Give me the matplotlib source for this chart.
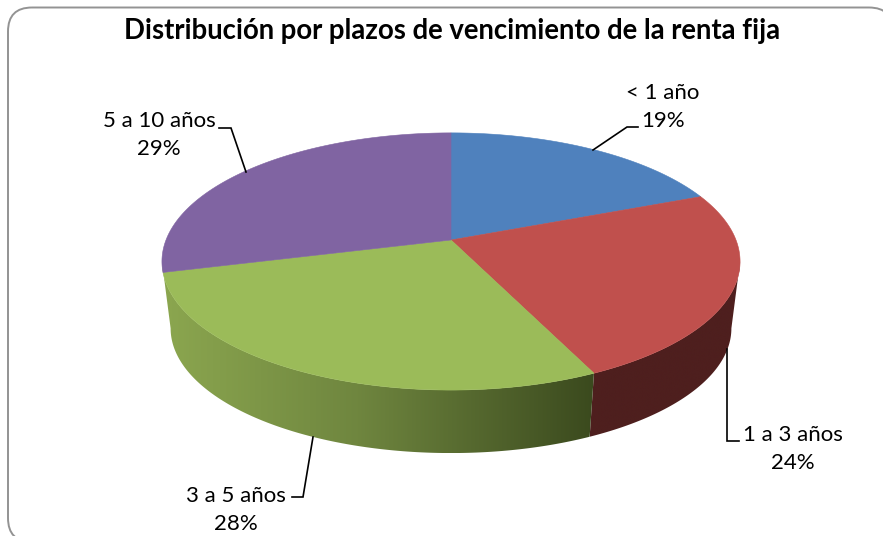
import numpy as np
import matplotlib
matplotlib.use("Agg")
import matplotlib.pyplot as plt
from matplotlib.patches import Polygon, PathPatch
from matplotlib.path import Path
from matplotlib.colors import to_rgb

categories = ["< 1 año", "1 a 3 años", "3 a 5 años", "5 a 10 años"]
values = [19, 24, 28, 29]
top_colors = ["#4f81bd", "#c0504d", "#9bbb59", "#8064a2"]
title = "Distribución por plazos de vencimiento de la renta fija"

plt.rcParams["font.family"] = ["Lato", "DejaVu Sans"]
fig = plt.figure(figsize=(8.83, 5.36), dpi=100, facecolor="white")
ax = fig.add_axes([0, 0, 1, 1])
ax.set_xlim(0, 883)
ax.set_ylim(536, 0)
ax.axis("off")

# rounded chart frame (extends beyond the canvas at right/bottom)
x0, y0, x1, y1, r = 8, 7.5, 893, 542, 24
verts = [(x0 + r, y0), (x1 - r, y0), (x1, y0), (x1, y0 + r), (x1, y1 - r), (x1, y1), (x1 - r, y1),
         (x0 + r, y1), (x0, y1), (x0, y1 - r), (x0, y0 + r), (x0, y0), (x0 + r, y0)]
codes = [Path.MOVETO, Path.LINETO, Path.CURVE3, Path.CURVE3, Path.LINETO, Path.CURVE3, Path.CURVE3,
         Path.LINETO, Path.CURVE3, Path.CURVE3, Path.LINETO, Path.CURVE3, Path.CURVE3]
ax.add_patch(PathPatch(Path(verts, codes), fc="white", ec="#939393", lw=1.4, zorder=0))

# perspective projection of the pie disc
CX, CY, A, B, K = 451, 240, 285, 125, -0.167
SCALE_LOW, CY_LOW = 0.97, 307.5
SILHOUETTE = np.arccos(K)  # angle where the rim is widest


def project(theta, scale=1.0, cy=CY):
    u, v = np.sin(theta), -np.cos(theta)
    w = 1 + K * v
    return CX + A * scale * u / w, cy + B * scale * v / w


def wall_gradient(i, xs):
    """Side wall colours along horizontal positions xs."""
    if i == 2:  # green: fades to dark towards the right
        stops = [to_rgb("#8ba64f"), to_rgb("#6f863f"), to_rgb("#3b4a1e")]
        t = [165, 357, 592]
        return np.array([np.interp(xs, t, [s[k] for s in stops]) for k in range(3)]).T
    return np.tile(to_rgb("#4e1f1e"), (len(xs), 1))


edges = np.r_[0, np.cumsum(values)] / sum(values) * 2 * np.pi

# side walls: only the red and green sectors show theirs, out to the silhouette
wall_spans = {1: (SILHOUETTE, edges[2]), 2: (edges[2], 2 * np.pi - SILHOUETTE)}
for i, (start, stop) in wall_spans.items():
    th = np.linspace(start, stop, 240)
    xt, yt = project(th)
    xb, yb = project(th[::-1], SCALE_LOW, CY_LOW)
    pts = np.column_stack([np.r_[xt, xb], np.r_[yt, yb]])
    clip = Polygon(pts, closed=True, transform=ax.transData, fc="none", ec="none")
    ax.add_patch(clip)
    lo, hi = pts[:, 0].min(), pts[:, 0].max()
    grad = wall_gradient(i, np.linspace(lo, hi, 512))[None, :, :]
    im = ax.imshow(grad, extent=[lo, hi, pts[:, 1].max(), pts[:, 1].min()], aspect="auto",
                   interpolation="bilinear", zorder=2)
    im.set_clip_path(clip)
ax.set_xlim(0, 883)
ax.set_ylim(536, 0)

# top face
for i, c in enumerate(top_colors):
    th = np.linspace(edges[i], edges[i + 1], 200)
    xs, ys = project(th)
    pts = np.column_stack([np.r_[CX, xs], np.r_[CY, ys]])
    ax.add_patch(Polygon(pts, closed=True, fc=c, ec=c, lw=0.4, zorder=3))

# title
ax.text(452.5, 31, title, ha="center", va="center", fontsize=19.85, fontweight="bold", color="black", zorder=5)

# data labels
label_pos = [(663, 107), (793, 449), (236, 510), (159, 135)]
for cat, val, (lx, ly) in zip(categories, values, label_pos):
    ax.text(lx, ly, f"{cat}\n{val}%", ha="center", va="center", fontsize=16, color="black",
            linespacing=1.5, zorder=5)

# leader lines
leaders = [
    [(638, 127), (627, 127), (593, 150)],
    [(727, 349), (727, 441), (739, 441)],
    [(313, 437), (303, 497), (292, 497)],
    [(219, 128), (231, 128), (246, 172)],
]
for ln in leaders:
    xs, ys = zip(*ln)
    ax.plot(xs, ys, color="black", lw=1.2, solid_joinstyle="miter", zorder=4)

fig.savefig("out.png", dpi=100, facecolor="white")
